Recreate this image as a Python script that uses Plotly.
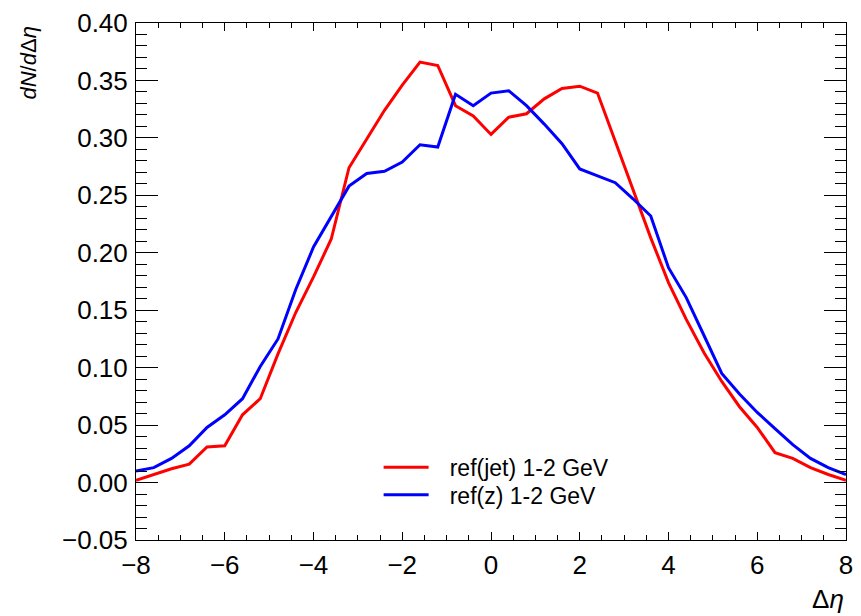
import plotly.graph_objects as go

x_vals = [-8.0, -7.6, -7.2, -6.8, -6.4, -6.0, -5.6, -5.2, -4.8, -4.4, -4.0,
          -3.6, -3.2, -2.8, -2.4, -2.0, -1.6, -1.2, -0.8, -0.4, 0.0,
          0.4, 0.8, 1.2, 1.6, 2.0, 2.4, 2.8, 3.2, 3.6, 4.0,
          4.4, 4.8, 5.2, 5.6, 6.0, 6.4, 6.8, 7.2, 7.6, 8.0]

ref_jet = [0.002, 0.007, 0.012, 0.016, 0.031, 0.032, 0.059, 0.073, 0.112, 0.148, 0.179,
           0.212, 0.274, 0.299, 0.324, 0.346, 0.366, 0.363, 0.328, 0.319, 0.303,
           0.318, 0.321, 0.334, 0.343, 0.345, 0.339, 0.297, 0.255, 0.213, 0.174,
           0.142, 0.113, 0.088, 0.066, 0.048, 0.026, 0.021, 0.013, 0.007, 0.002]

ref_z = [0.010, 0.013, 0.021, 0.032, 0.048, 0.059, 0.073, 0.101, 0.125, 0.168, 0.205,
         0.232, 0.258, 0.269, 0.271, 0.279, 0.294, 0.292, 0.338, 0.328, 0.339,
         0.341, 0.328, 0.312, 0.295, 0.273, 0.267, 0.261, 0.247, 0.232, 0.187,
         0.161, 0.128, 0.095, 0.077, 0.061, 0.047, 0.033, 0.021, 0.013, 0.007]

series_names = ["ref(jet) 1-2 GeV", "ref(z) 1-2 GeV"]
series_colors = ["#ff0000", "#0000ff"]
legend_ids = ["legend", "legend2"]

FONT = "Liberation Sans, Arial, sans-serif"

fig = go.Figure()
for name, vals, col, lg in zip(series_names, [ref_jet, ref_z], series_colors, legend_ids):
    fig.add_trace(go.Scatter(x=x_vals, y=vals, mode="lines", name="\u2002\u2009" + name,
                             legend=lg,
                             line=dict(color=col, width=3), hoverinfo="skip"))

leg_common = dict(xanchor="left", yanchor="middle", bgcolor="rgba(0,0,0,0)",
                  font=dict(size=23, family=FONT), itemwidth=45)

fig.update_layout(
    width=861, height=616,
    margin=dict(l=136, r=8, t=14, b=76),
    paper_bgcolor="white", plot_bgcolor="white",
    font=dict(family=FONT, color="black", size=26),
    showlegend=True,
    legend=dict(x=(381 - 136) / 717, y=(540 - 466) / 526, **leg_common),
    legend2=dict(x=(381 - 136) / 717, y=(540 - 494) / 526, **leg_common),
    xaxis=dict(range=[-8.00001, 8.00001], dtick=2, tick0=-8, ticks="inside", ticklen=8,
               tickwidth=1, tickcolor="black", showline=True, linecolor="black",
               linewidth=1, mirror="ticks", showgrid=False, zeroline=False,
               tickfont=dict(size=26), ticklabelstandoff=2, ticklabeloverflow="allow",
               minor=dict(dtick=0.5, ticklen=5, tickwidth=1, tickcolor="black",
                          ticks="inside", showgrid=False)),
    yaxis=dict(range=[-0.0500001, 0.4000001], dtick=0.05, tick0=0, ticks="inside", ticklen=22,
               tickwidth=1, tickcolor="black", showline=True, linecolor="black",
               linewidth=1, mirror="ticks", showgrid=False, zeroline=False,
               tickformat=".2f", tickfont=dict(size=26), ticklabelstandoff=2,
               ticklabeloverflow="allow",
               minor=dict(dtick=0.01, ticklen=11, tickwidth=1, tickcolor="black",
                          ticks="inside", showgrid=False)),
)

fig.add_annotation(text="<i>dN</i>/<i>d</i>Δ<i>η</i>", xref="paper", yref="paper",
                   x=(27 - 136) / 717, y=1 - (16 - 14) / 526, xanchor="center",
                   yanchor="top", textangle=-90, showarrow=False,
                   font=dict(size=22, family=FONT))
fig.add_annotation(text="Δ<i>η</i>", xref="paper", yref="paper",
                   x=1.0, y=(540 - 600) / 526, xanchor="right", yanchor="middle",
                   showarrow=False, font=dict(size=26, family=FONT))

fig.write_html("out.html")
